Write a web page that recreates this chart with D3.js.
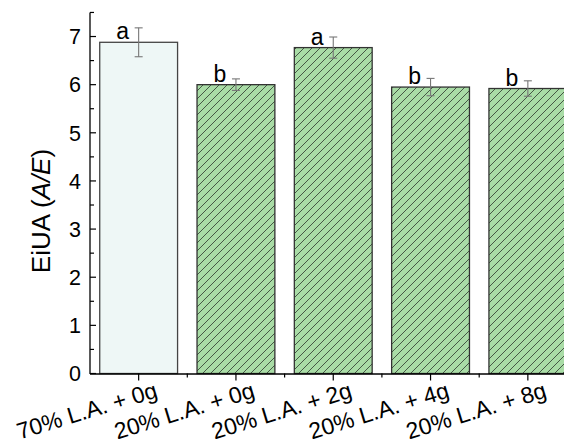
<!DOCTYPE html>
<html>
<head>
<meta charset="utf-8">
<script src="https://cdn.jsdelivr.net/npm/d3@7"></script>
<style>
  html, body { margin: 0; padding: 0; background: #fff; }
  svg { display: block; font-family: "Liberation Sans", Arial, sans-serif; }
</style>
</head>
<body>
<svg id="chart" width="564" height="439"></svg>
<script>
const categories = ["70% L.A. + 0g", "20% L.A. + 0g", "20% L.A. + 2g", "20% L.A. + 4g", "20% L.A. + 8g"];
const values = [6.88, 6.00, 6.77, 5.95, 5.92];
const errors = [0.30, 0.12, 0.22, 0.18, 0.16];
const letters = ["a", "b", "a", "b", "b"];
const hatched = [false, true, true, true, true];
const yTicks = [0, 1, 2, 3, 4, 5, 6, 7];

const svg = d3.select("#chart");
const x0 = 90, y0 = 373.5;
const x = d3.scaleBand().domain(categories).range([x0, x0 + 5 * 97.3]).paddingInner(0.2).paddingOuter(0.1);
const y = d3.scaleLinear().domain([0, 7.5]).range([y0, 12.45]);

const defs = svg.append("defs");
const pat = defs.append("pattern").attr("id", "hatch").attr("patternUnits", "userSpaceOnUse")
  .attr("width", 8).attr("height", 8);
pat.append("rect").attr("width", 8).attr("height", 8).attr("fill", "#a9dca6");
pat.append("path").attr("d", "M-2,2 L2,-2 M0,8 L8,0 M6,10 L10,6")
  .attr("stroke", "#3a4a3a").attr("stroke-width", 0.9);

// bars
svg.selectAll("rect.bar").data(categories).join("rect").attr("class", "bar")
  .attr("x", d => x(d)).attr("width", x.bandwidth())
  .attr("y", (d, i) => y(values[i])).attr("height", (d, i) => y0 - y(values[i]))
  .attr("fill", (d, i) => hatched[i] ? "url(#hatch)" : "#eef7f6")
  .attr("stroke", (d, i) => hatched[i] ? "#333" : "#444").attr("stroke-width", 1.3);

// error bars
const eb = svg.append("g").attr("stroke", "#777").attr("stroke-width", 1.1);
categories.forEach((c, i) => {
  const cx = x(c) + x.bandwidth() / 2;
  eb.append("line").attr("x1", cx).attr("x2", cx).attr("y1", y(values[i] + errors[i])).attr("y2", y(values[i] - errors[i]));
  eb.append("line").attr("x1", cx - 4).attr("x2", cx + 4).attr("y1", y(values[i] + errors[i])).attr("y2", y(values[i] + errors[i]));
  eb.append("line").attr("x1", cx - 4).attr("x2", cx + 4).attr("y1", y(values[i] - errors[i])).attr("y2", y(values[i] - errors[i]));
});

// letters
svg.selectAll("text.let").data(categories).join("text").attr("class", "let")
  .attr("x", d => x(d) + x.bandwidth() / 2 - 16)
  .attr("y", (d, i) => y(values[i]) - 3)
  .attr("text-anchor", "middle").attr("font-size", 23).attr("fill", "#000")
  .text((d, i) => letters[i]);

// y axis
const yAxis = svg.append("g").attr("transform", `translate(${x0},0)`);
yAxis.append("line").attr("x1", 0).attr("x2", 0).attr("y1", y(7.5)).attr("y2", y0 + 0.5).attr("stroke", "#000").attr("stroke-width", 1.3);
yAxis.selectAll("line.maj").data(yTicks).join("line").attr("class", "maj")
  .attr("x1", 0).attr("x2", 6).attr("y1", d => y(d)).attr("y2", d => y(d)).attr("stroke", "#000").attr("stroke-width", 1.2);
yAxis.selectAll("line.min").data(yTicks.map(d => d + 0.5)).join("line").attr("class", "min")
  .attr("x1", 0).attr("x2", 4).attr("y1", d => y(d)).attr("y2", d => y(d)).attr("stroke", "#000").attr("stroke-width", 1.2);
yAxis.selectAll("text").data(yTicks).join("text")
  .attr("x", -9).attr("y", d => y(d)).attr("dy", "0.36em")
  .attr("text-anchor", "end").attr("font-size", 21.5).text(d => d);

// x axis
const xAxis = svg.append("g");
xAxis.append("line").attr("x1", x0).attr("x2", 564).attr("y1", y0 + 0.5).attr("y2", y0 + 0.5).attr("stroke", "#000").attr("stroke-width", 1.3);
xAxis.selectAll("line.maj").data(categories).join("line").attr("class", "maj")
  .attr("x1", d => x(d) + x.bandwidth() / 2).attr("x2", d => x(d) + x.bandwidth() / 2)
  .attr("y1", y0).attr("y2", y0 + 7).attr("stroke", "#000").attr("stroke-width", 1.2);
xAxis.selectAll("line.min").data(categories.slice(0, 4)).join("line").attr("class", "min")
  .attr("x1", d => x(d) + x.bandwidth() / 2 + x.step() / 2).attr("x2", d => x(d) + x.bandwidth() / 2 + x.step() / 2)
  .attr("y1", y0).attr("y2", y0 + 4).attr("stroke", "#000").attr("stroke-width", 1.2);
xAxis.selectAll("text").data(categories).join("text")
  .attr("transform", d => `translate(${x(d) + x.bandwidth() / 2 + 20},397) rotate(-17)`)
  .attr("text-anchor", "end").attr("font-size", 23).text(d => d);

// y label
const yl = svg.append("text").attr("transform", "translate(50,211) rotate(-90)")
  .attr("text-anchor", "middle").attr("font-size", 26);
yl.append("tspan").text("EiUA (");
yl.append("tspan").attr("font-style", "italic").text("A/E");
yl.append("tspan").text(")");
</script>
</body>
</html>
